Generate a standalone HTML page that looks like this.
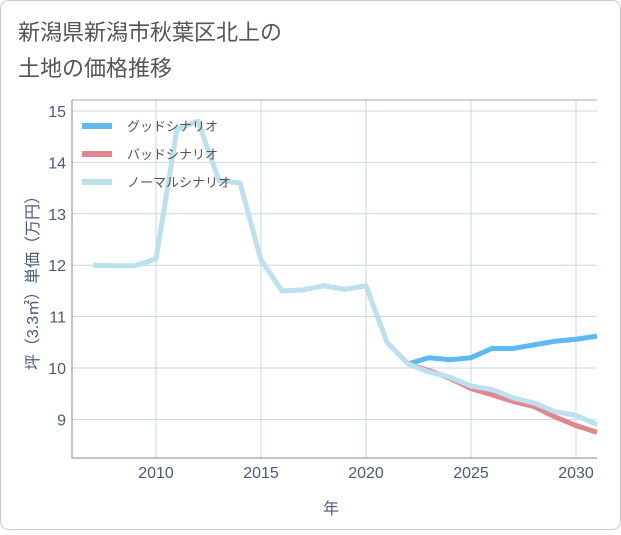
<!DOCTYPE html>
<html><head><meta charset="utf-8"><style>
body{margin:0;background:#fff;font-family:"Liberation Sans","Noto Sans CJK JP",sans-serif}
</style></head><body>
<svg width="621" height="530" xmlns="http://www.w3.org/2000/svg" font-family="Liberation Sans, Noto Sans CJK JP, sans-serif">
<rect x="0.5" y="0.5" width="620" height="529" rx="8" fill="#fff" stroke="#ccc"/>
<text x="18" y="40" font-size="22" fill="#555">新潟県新潟市秋葉区北上の</text>
<text x="18" y="76" font-size="22" fill="#555">土地の価格推移</text>
<g id="grid"></g>
<g id="series"></g>
<g id="legend"></g>
<text x="331" y="514" font-size="16" fill="#4a5a78" text-anchor="middle">年</text>
<text transform="translate(38,279) rotate(-90)" font-size="16" fill="#4a5a78" text-anchor="middle">坪（3.3㎡）単価（万円）</text>
</svg>
<script>
const years=[2007,2008,2009,2010,2011,2012,2013,2014,2015,2016,2017,2018,2019,2020,2021,2022,2023,2024,2025,2026,2027,2028,2029,2030,2031];
const normal=[12.0,11.99,11.99,12.12,14.65,14.8,13.65,13.6,12.1,11.5,11.52,11.6,11.53,11.6,10.5,10.08,9.92,9.82,9.65,9.58,9.42,9.32,9.15,9.08,8.9];
const fYears=[2022,2023,2024,2025,2026,2027,2028,2029,2030,2031];
const good=[10.08,10.2,10.16,10.2,10.38,10.38,10.45,10.52,10.56,10.62];
const bad=[10.08,9.95,9.8,9.6,9.48,9.35,9.25,9.05,8.88,8.75];
const xTicks=[2010,2015,2020,2025,2030];
const yTicks=[9,10,11,12,13,14,15];
const PL=72,PR=597,PT=100,PB=458;
const xs_=v=>156+(v-2010)*21;
const ys_=v=>368-(v-10)*51.4;
const NS="http://www.w3.org/2000/svg";
function mk(p,tag,a){const e=document.createElementNS(NS,tag);for(const k in a)e.setAttribute(k,a[k]);p.appendChild(e);return e;}
const gridG=document.getElementById('grid');
yTicks.forEach(t=>{
 const l=mk(gridG,'line',{x1:PL,x2:PR,y1:ys_(t),y2:ys_(t),stroke:'#c8d6e5'});
 
 
 const tx=mk(gridG,'text',{x:PL-6,y:ys_(t)+6,'font-size':16,fill:'#4a5a78','text-anchor':'end'});tx.textContent=t;
 
 
});
xTicks.forEach(t=>{
 const l=mk(gridG,'line',{x1:xs_(t),x2:xs_(t),y1:PT,y2:PB,stroke:'#c8d6e5'});
 
 
 const tx=mk(gridG,'text',{x:xs_(t),y:PB+20,'font-size':16,fill:'#4a5a78','text-anchor':'middle'});tx.textContent=t;
 
 
});
const axesPath=mk(gridG,'path',{d:`M${PL},${PT}V${PB}H${PR}`,fill:'none',stroke:'#888'});


const plotTop=mk(gridG,'line',{x1:PL,x2:PR,y1:PT,y2:PT,stroke:'#aaa'});


const seriesG=document.getElementById('series');
function drawLine(xv,vs,c,name){
 const p=mk(seriesG,'polyline',{points:xv.map((v,i)=>xs_(v)+','+ys_(vs[i])).join(' '),fill:'none',stroke:c,'stroke-width':5,'stroke-linejoin':'round'});
 
 
}
drawLine(fYears,bad,'#e0868f','bad-scenario-line');
drawLine(fYears,good,'#5fb8f0','good-scenario-line');
drawLine(years,normal,'#bde0ee','normal-scenario-line');
const legendG=document.getElementById('legend');
[['グッドシナリオ','#5fb8f0'],['バッドシナリオ','#e0868f'],['ノーマルシナリオ','#bde0ee']].forEach((d,i)=>{
 const yy=126+i*28;
 const r=mk(legendG,'line',{x1:82,x2:112,y1:yy,y2:yy,stroke:d[1],'stroke-width':6});
 
 
 const t=mk(legendG,'text',{x:127,y:yy+5,'font-size':13,fill:'#555'});t.textContent=d[0];
 
 
});
</script>
</body></html>
